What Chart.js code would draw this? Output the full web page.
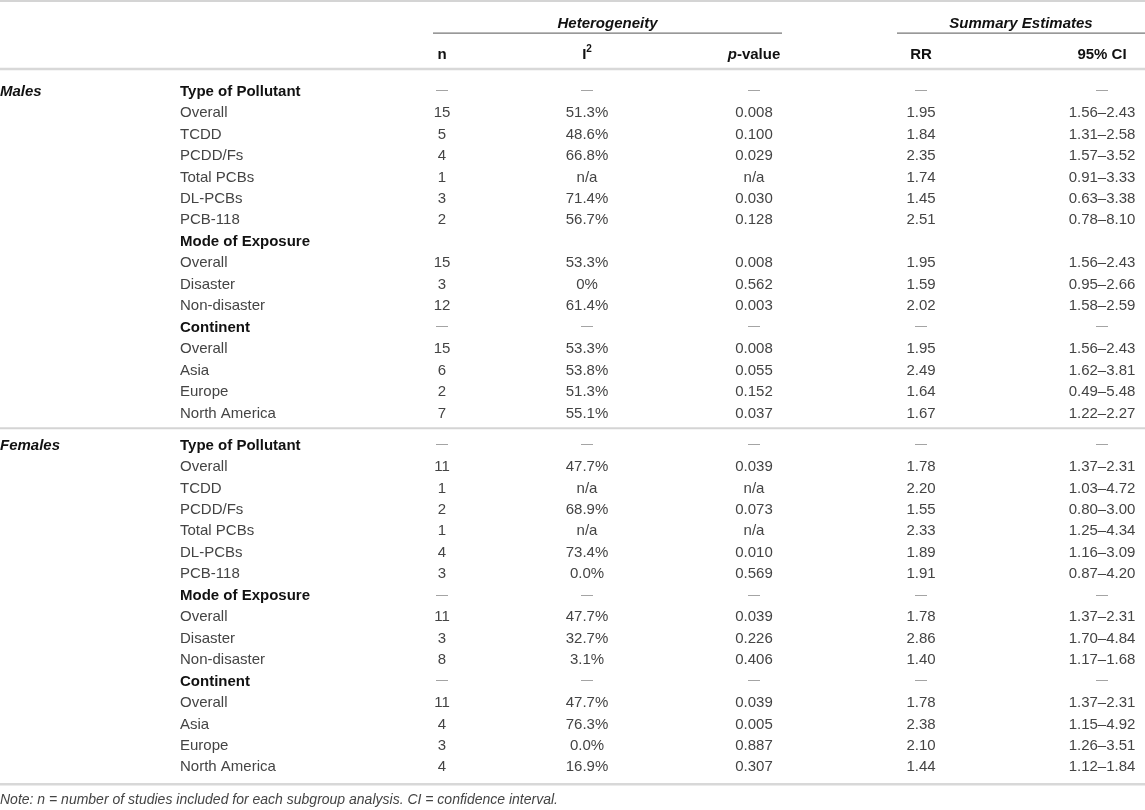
<!DOCTYPE html>
<html>
<head>
<meta charset="utf-8">
<script src="https://cdn.jsdelivr.net/npm/chart.js@4/dist/chart.umd.min.js"></script>
<style>
  html, body { margin: 0; padding: 0; background: #fff; }
  #tableChart { display: block; }
</style>
</head>
<body>
<canvas id="tableChart" width="1145" height="810"></canvas>
<script>
// --- données du tableau ---
const groups = ['Males', 'Females'];
const subgroups = ['Type of Pollutant', 'Overall', 'TCDD', 'PCDD/Fs', 'Total PCBs', 'DL-PCBs', 'PCB-118',
  'Mode of Exposure', 'Overall', 'Disaster', 'Non-disaster',
  'Continent', 'Overall', 'Asia', 'Europe', 'North America'];
const boldRows = [0, 7, 11];

const malesN   = ['—', '15', '5', '4', '1', '3', '2', '', '15', '3', '12', '—', '15', '6', '2', '7'];
const malesI2  = ['—', '51.3%', '48.6%', '66.8%', 'n/a', '71.4%', '56.7%', '', '53.3%', '0%', '61.4%', '—', '53.3%', '53.8%', '51.3%', '55.1%'];
const malesP   = ['—', '0.008', '0.100', '0.029', 'n/a', '0.030', '0.128', '', '0.008', '0.562', '0.003', '—', '0.008', '0.055', '0.152', '0.037'];
const malesRR  = ['—', '1.95', '1.84', '2.35', '1.74', '1.45', '2.51', '', '1.95', '1.59', '2.02', '—', '1.95', '2.49', '1.64', '1.67'];
const malesCI  = ['—', '1.56–2.43', '1.31–2.58', '1.57–3.52', '0.91–3.33', '0.63–3.38', '0.78–8.10', '', '1.56–2.43', '0.95–2.66', '1.58–2.59', '—', '1.56–2.43', '1.62–3.81', '0.49–5.48', '1.22–2.27'];

const femalesN  = ['—', '11', '1', '2', '1', '4', '3', '—', '11', '3', '8', '—', '11', '4', '3', '4'];
const femalesI2 = ['—', '47.7%', 'n/a', '68.9%', 'n/a', '73.4%', '0.0%', '—', '47.7%', '32.7%', '3.1%', '—', '47.7%', '76.3%', '0.0%', '16.9%'];
const femalesP  = ['—', '0.039', 'n/a', '0.073', 'n/a', '0.010', '0.569', '—', '0.039', '0.226', '0.406', '—', '0.039', '0.005', '0.887', '0.307'];
const femalesRR = ['—', '1.78', '2.20', '1.55', '2.33', '1.89', '1.91', '—', '1.78', '2.86', '1.40', '—', '1.78', '2.38', '2.10', '1.44'];
const femalesCI = ['—', '1.37–2.31', '1.03–4.72', '0.80–3.00', '1.25–4.34', '1.16–3.09', '0.87–4.20', '—', '1.37–2.31', '1.70–4.84', '1.17–1.68', '—', '1.37–2.31', '1.15–4.92', '1.26–3.51', '1.12–1.84'];

const spanHeaders = ['Heterogeneity', 'Summary Estimates'];
const noteText = ['Note: ', 'n', ' = number of studies included for each subgroup analysis. ', 'CI', ' = confidence interval.'];

// --- mise en page (positions sur les axes) ---
const FONT = '"Liberation Sans", Arial, sans-serif';
const TEXT = '#444';
const DASH = '#999';
const TEXT_DY = 1.5;
const colX = { group: 0, sub: 180, n: 442, i2: 587, p: 754, rr: 921, ci: 1102 };
const colAlign = { group: 'left', sub: 'left', n: 'center', i2: 'center', p: 'center', rr: 'center', ci: 'center' };
const sectionStep = 16.5;   // lignes par section (+ espace)
const rowsY = { top: -3.17, head: -1.72, note: 33.05 };
const rules = [
  { y: -4.15, x0: 0, x1: 1145, w: 2, c: '#d4d4d4' },
  { y: -2.66, x0: 433, x1: 782, w: 1.2, c: '#777' },
  { y: -2.66, x0: 897, x1: 1145, w: 1.2, c: '#777' },
  { y: -0.98, x0: 0, x1: 1145, w: 2.5, c: '#d8d8d8' },
  { y: 15.76, x0: 0, x1: 1145, w: 2, c: '#d4d4d4' },
  { y: 32.36, x0: 0, x1: 1145, w: 2.5, c: '#d8d8d8' }
];

const sections = [
  { n: malesN, i2: malesI2, p: malesP, rr: malesRR, ci: malesCI },
  { n: femalesN, i2: femalesI2, p: femalesP, rr: femalesRR, ci: femalesCI }
];

// un jeu de données par colonne et par section
const datasets = [];
sections.forEach((sec, s) => {
  datasets.push({ col: 'group', texts: [groups[s]], data: [{ x: colX.group, y: s * sectionStep }] });
  datasets.push({ col: 'sub', texts: subgroups, data: subgroups.map((_, i) => ({ x: colX.sub, y: s * sectionStep + i })) });
  ['n', 'i2', 'p', 'rr', 'ci'].forEach(k => {
    datasets.push({ col: k, texts: sec[k], data: sec[k].map((_, i) => ({ x: colX[k], y: s * sectionStep + i })) });
  });
});

function drawRuns(ctx, runs, x, y, align) {
  let total = 0;
  runs.forEach(r => { ctx.font = r.font; r.w = ctx.measureText(r.t).width; total += r.w; });
  let cx = align === 'center' ? x - total / 2 : align === 'right' ? x - total : x;
  ctx.textAlign = 'left';
  runs.forEach(r => {
    ctx.font = r.font;
    ctx.fillStyle = r.color || TEXT;
    ctx.fillText(r.t, cx, y + TEXT_DY + (r.dy || 0));
    cx += r.w;
  });
}

const tablePlugin = {
  id: 'tableText',
  afterDatasetsDraw(chart) {
    const ctx = chart.ctx;
    const xs = chart.scales.x, ys = chart.scales.y;
    ctx.save();
    ctx.textBaseline = 'middle';

    // filets
    rules.forEach(r => {
      const py = ys.getPixelForValue(r.y);
      ctx.strokeStyle = r.c;
      ctx.lineWidth = r.w;
      ctx.beginPath();
      ctx.moveTo(xs.getPixelForValue(r.x0), py);
      ctx.lineTo(xs.getPixelForValue(r.x1), py);
      ctx.stroke();
    });

    // en-têtes
    const bi = 'italic bold 15px ' + FONT, b = 'bold 15px ' + FONT;
    const yTop = ys.getPixelForValue(rowsY.top), yHead = ys.getPixelForValue(rowsY.head);
    drawRuns(ctx, [{ t: spanHeaders[0], font: bi, color: '#111' }], xs.getPixelForValue((433 + 782) / 2), yTop, 'center');
    drawRuns(ctx, [{ t: spanHeaders[1], font: bi, color: '#111' }], xs.getPixelForValue((897 + 1145) / 2), yTop, 'center');
    drawRuns(ctx, [{ t: 'n', font: b, color: '#111' }], xs.getPixelForValue(colX.n), yHead, 'center');
    drawRuns(ctx, [{ t: 'I', font: b, color: '#111' }, { t: '2', font: 'bold 10px ' + FONT, dy: -5, color: '#111' }], xs.getPixelForValue(colX.i2), yHead, 'center');
    drawRuns(ctx, [{ t: 'p', font: bi, color: '#111' }, { t: '-value', font: b, color: '#111' }], xs.getPixelForValue(colX.p), yHead, 'center');
    drawRuns(ctx, [{ t: 'RR', font: b, color: '#111' }], xs.getPixelForValue(colX.rr), yHead, 'center');
    drawRuns(ctx, [{ t: '95% CI', font: b, color: '#111' }], xs.getPixelForValue(colX.ci), yHead, 'center');

    // cellules
    chart.data.datasets.forEach((ds, di) => {
      const meta = chart.getDatasetMeta(di);
      meta.data.forEach((pt, j) => {
        const t = ds.texts[j];
        if (!t) return;
        let font = '15px ' + FONT, color = TEXT, dy = 0;
        if (ds.col === 'group') { font = bi; color = '#111'; }
        else if (ds.col === 'sub' && boldRows.includes(j)) { font = b; color = '#111'; }
        if (t === '—') { color = DASH; font = '12px ' + FONT; dy = -0.5; }
        drawRuns(ctx, [{ t, font, color, dy }], pt.x, pt.y, colAlign[ds.col]);
      });
    });

    // note
    const ni = 'italic 14px ' + FONT;
    drawRuns(ctx, noteText.map(t => ({ t, font: ni })), xs.getPixelForValue(0), ys.getPixelForValue(rowsY.note), 'left');
    ctx.restore();
  }
};

new Chart(document.getElementById('tableChart'), {
  type: 'scatter',
  data: { datasets },
  options: {
    responsive: false,
    animation: false,
    events: [],
    layout: { padding: 0 },
    elements: { point: { radius: 0, hoverRadius: 0 } },
    plugins: { legend: { display: false }, tooltip: { enabled: false } },
    scales: {
      x: { type: 'linear', min: 0, max: 1145, display: false },
      y: { type: 'linear', min: -4.2, max: 33.56, reverse: true, display: false }
    }
  },
  plugins: [tablePlugin]
});
</script>
</body>
</html>
